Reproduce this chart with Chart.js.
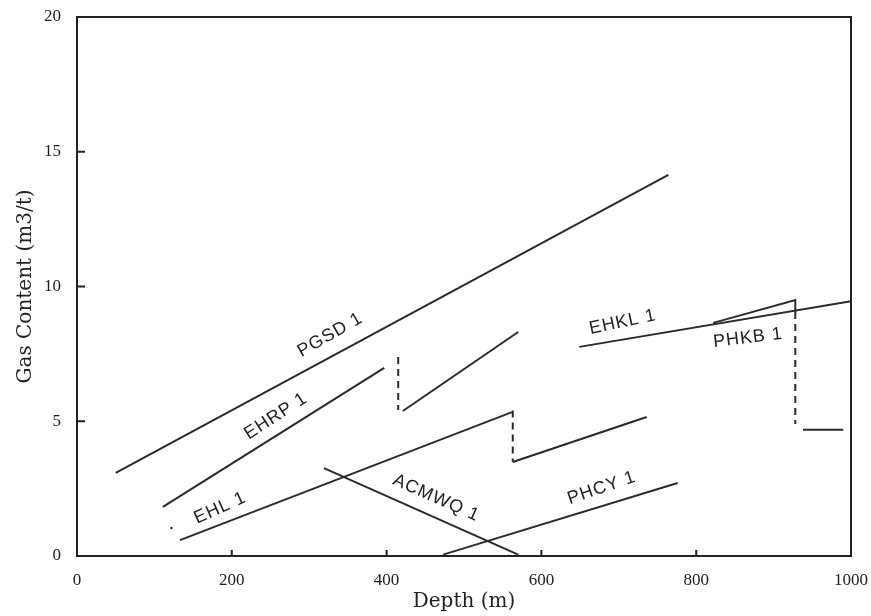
<!DOCTYPE html>
<html>
<head>
<meta charset="utf-8">
<script src="https://cdn.jsdelivr.net/npm/chart.js@4.4.0/dist/chart.umd.min.js"></script>
<style>
  body { margin: 0; background: #fff; }
  #contenedor { width: 871px; height: 616px; }
</style>
</head>
<body>
<div id="contenedor"><canvas id="grafico" width="871" height="616"></canvas></div>
<script>
// profundidad (m) y contenido de gas (m3/t) de cada tramo
let pgsdProf = [50, 764];
let pgsdGas = [3.08, 14.14];

let ehrpProf1 = [111, 397];
let ehrpGas1 = [1.82, 6.98];
let ehrpSaltoProf = [415, 415];
let ehrpSaltoGas = [7.38, 5.42];
let ehrpProf2 = [421, 570];
let ehrpGas2 = [5.38, 8.31];

let ehlProf1 = [133, 562];
let ehlGas1 = [0.59, 5.34];
let ehlSaltoProf = [563, 563];
let ehlSaltoGas = [5.4, 3.49];
let ehlProf2 = [563, 736];
let ehlGas2 = [3.49, 5.16];
let ehlPuntoProf = [122];
let ehlPuntoGas = [1.04];

let acmwqProf = [319, 570];
let acmwqGas = [3.26, 0.05];

let phcyProf = [473, 776];
let phcyGas = [0.05, 2.71];

let ehklProf = [649, 1000];
let ehklGas = [7.76, 9.45];

let phkbProf1 = [822, 928, 928];
let phkbGas1 = [8.65, 9.5, 9.05];
let phkbSaltoProf = [928, 928];
let phkbSaltoGas = [9.05, 4.9];
let phkbProf2 = [938, 990];
let phkbGas2 = [4.68, 4.68];

// marcas de los ejes
let marcasX = [200, 400, 600, 800];
let marcasY = [5, 10, 15];

// nombres de los pozos escritos junto a cada linea
let nombresPozos = ["PGSD 1", "EHRP 1", "EHL 1", "ACMWQ 1", "PHCY 1", "EHKL 1", "PHKB 1"];
let nombreProf = [327, 257, 185, 464, 678, 705, 867];
let nombreGas = [8.2, 5.19, 1.78, 2.15, 2.52, 8.68, 8.09];
let nombreAngulo = [-30, -33, -24, 24, -19, -12, -7];

let colorLinea = "#2a2a2a";

let armarPuntos = (prof, gas) => prof.map((p, i) => ({ x: p, y: gas[i] }));

let tramo = (prof, gas, discontinuo) => ({
    data: armarPuntos(prof, gas),
    showLine: true,
    borderColor: colorLinea,
    borderWidth: 2,
    borderDash: discontinuo ? [7, 5] : [],
    pointRadius: 0,
    fill: false
});

let datasets = [
    tramo(pgsdProf, pgsdGas),
    tramo(ehrpProf1, ehrpGas1),
    tramo(ehrpSaltoProf, ehrpSaltoGas, true),
    tramo(ehrpProf2, ehrpGas2),
    tramo(ehlProf1, ehlGas1),
    tramo(ehlSaltoProf, ehlSaltoGas, true),
    tramo(ehlProf2, ehlGas2),
    tramo(acmwqProf, acmwqGas),
    tramo(phcyProf, phcyGas),
    tramo(ehklProf, ehklGas),
    tramo(phkbProf1, phkbGas1),
    tramo(phkbSaltoProf, phkbSaltoGas, true),
    tramo(phkbProf2, phkbGas2),
    {
        data: armarPuntos(ehlPuntoProf, ehlPuntoGas),
        showLine: false,
        pointRadius: 1.2,
        pointBackgroundColor: colorLinea,
        pointBorderWidth: 0
    }
];

// marco, marcas hacia adentro y nombres de pozos
const marcoYNombres = {
    id: "marcoYNombres",
    afterDatasetsDraw(chart) {
        const { ctx, chartArea: a, scales: { x, y } } = chart;
        ctx.save();
        ctx.strokeStyle = "#222";
        ctx.lineWidth = 2;
        ctx.strokeRect(a.left, a.top, a.right - a.left, a.bottom - a.top);

        ctx.beginPath();
        marcasX.forEach(v => {
            let px = x.getPixelForValue(v);
            ctx.moveTo(px, a.bottom);
            ctx.lineTo(px, a.bottom - 6);
        });
        marcasY.forEach(v => {
            let py = y.getPixelForValue(v);
            ctx.moveTo(a.left, py);
            ctx.lineTo(a.left + 8, py);
        });
        ctx.stroke();

        ctx.fillStyle = "#1e1e1e";
        ctx.font = '18px "Liberation Sans"';
        ctx.letterSpacing = "1px";
        ctx.textAlign = "center";
        ctx.textBaseline = "middle";
        nombresPozos.forEach((texto, i) => {
            ctx.save();
            ctx.translate(x.getPixelForValue(nombreProf[i]), y.getPixelForValue(nombreGas[i]));
            ctx.rotate(nombreAngulo[i] * Math.PI / 180);
            ctx.fillText(texto, 0, 0);
            ctx.restore();
        });
        ctx.restore();
    }
};

const grafico = new Chart(document.getElementById("grafico"), {
    type: "scatter",
    data: { datasets: datasets },
    options: {
        responsive: false,
        animation: false,
        layout: { padding: { left: 0, right: 20, top: 17, bottom: 0 } },
        plugins: {
            legend: { display: false },
            tooltip: { enabled: false }
        },
        scales: {
            x: {
                type: "linear",
                min: 0,
                max: 1000,
                grid: { display: false },
                border: { display: false },
                ticks: {
                    stepSize: 200,
                    padding: 6,
                    color: "#1e1e1e",
                    font: { family: "Liberation Serif", size: 17 },
                    callback: (valor) => String(valor)
                },
                title: {
                    display: true,
                    text: "Depth (m)",
                    color: "#222",
                    font: { family: "DejaVu Serif", size: 20 },
                    padding: { top: 0, bottom: 2 }
                },
                afterFit: (escala) => {
                    escala.height = 60;
                    escala.paddingLeft = 0;
                    escala.paddingRight = 0;
                }
            },
            y: {
                type: "linear",
                min: 0,
                max: 20,
                grid: { display: false },
                border: { display: false },
                ticks: {
                    stepSize: 5,
                    padding: 8,
                    color: "#1e1e1e",
                    font: { family: "Liberation Serif", size: 17 }
                },
                title: {
                    display: true,
                    text: "Gas Content (m3/t)",
                    color: "#222",
                    font: { family: "DejaVu Serif", size: 20 },
                    padding: { top: 14, bottom: 0 }
                },
                afterFit: (escala) => {
                    escala.width = 77;
                    escala.paddingTop = 0;
                    escala.paddingBottom = 0;
                }
            }
        }
    },
    plugins: [marcoYNombres]
});
</script>
</body>
</html>
